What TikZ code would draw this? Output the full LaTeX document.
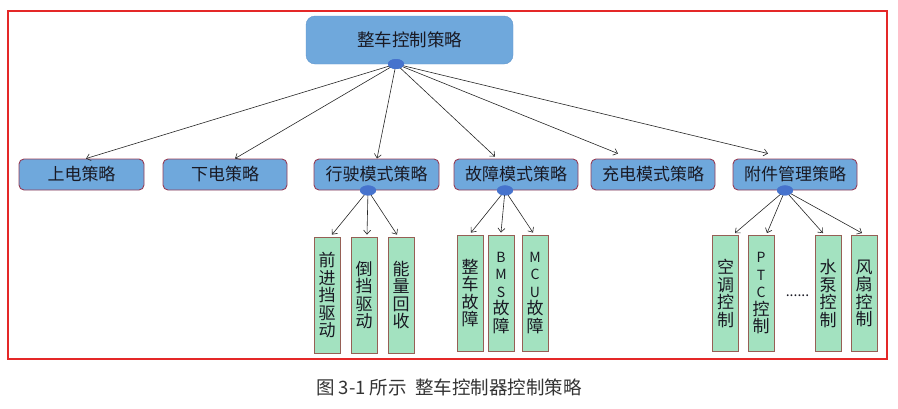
\documentclass[tikz,border=0pt]{standalone}
\usepackage{fontspec}
\setmainfont{Noto Sans CJK SC}
\usetikzlibrary{arrows.meta,shapes.geometric}
\definecolor{boxblue}{RGB}{111,168,220}
\definecolor{topborder}{RGB}{96,150,205}
\definecolor{midborder}{RGB}{150,60,85}
\definecolor{leafgreen}{RGB}{163,226,192}
\definecolor{leafborder}{RGB}{150,95,85}
\definecolor{hubblue}{RGB}{70,115,205}
\definecolor{framered}{RGB}{228,40,40}
\definecolor{txt}{RGB}{25,25,35}
\begin{document}
\begin{tikzpicture}[x=1pt,y=-1pt,
  topbox/.style={draw=topborder, fill=boxblue, rounded corners=9pt, minimum width=207pt, minimum height=48pt, inner sep=0pt, text=txt, font=\fontsize{17.5}{20}\selectfont},
  midbox/.style={draw=midborder, line width=0.9pt, fill=boxblue, rounded corners=5pt, minimum height=31pt, inner sep=0pt, text=txt, font=\fontsize{17}{20}\selectfont},
  leafbox/.style={draw=leafborder, line width=0.8pt, fill=leafgreen, minimum width=26pt, minimum height=116pt, inner sep=0pt, align=center, text=txt, font=\fontsize{17}{17.5}\selectfont},
  hub/.style={ellipse, fill=hubblue, minimum width=16pt, minimum height=10pt, inner sep=0pt},
  arr/.style={draw=black!85, line width=0.6pt, -{Straight Barb[length=4pt,width=7pt]}}
]
\useasboundingbox (0,0) rectangle (898,408);
\draw[framered, line width=1.2pt] (8,11) rectangle (887,359);

% top
\node[topbox] (top) at (409.5,40) {整车控制策略};

% level 2
\node[midbox, minimum width=125pt] (n1) at (81.5,174.5) {上电策略};
\node[midbox, minimum width=124pt] (n2) at (225,174.5) {下电策略};
\node[midbox, minimum width=125pt] (n3) at (376.5,174.5) {行驶模式策略};
\node[midbox, minimum width=124pt] (n4) at (516,174.5) {故障模式策略};
\node[midbox, minimum width=124pt] (n5) at (653,174.5) {充电模式策略};
\node[midbox, minimum width=124pt] (n6) at (795,174.5) {附件管理策略};

% hubs
\node[hub] (d0) at (396,64) {};
\node[hub] (d3) at ([xshift=-8.5pt]n3.south) {};
\node[hub] (d4) at ([xshift=-11pt]n4.south) {};
\node[hub] (d6) at ([xshift=-10pt]n6.south) {};

% level 3
\node[leafbox] (l1) at (327,295) {前\\进\\挡\\驱\\动};
\node[leafbox] (l2) at (364,295) {倒\\挡\\驱\\动};
\node[leafbox] (l3) at (401,295) {能\\量\\回\\收};
\node[leafbox] (k1) at (470,293) {整\\车\\故\\障};
\node[leafbox] (k2) at (501,293) {{\fontsize{14}{17.5}\selectfont B}\\{\fontsize{14}{17.5}\selectfont M}\\{\fontsize{14}{17.5}\selectfont S}\\故\\障};
\node[leafbox] (k3) at (535,293) {{\fontsize{14}{17.5}\selectfont M}\\{\fontsize{14}{17.5}\selectfont C}\\{\fontsize{14}{17.5}\selectfont U}\\故\\障};
\node[leafbox] (a1) at (725.5,293.5) {空\\调\\控\\制};
\node[leafbox] (a2) at (761,293.5) {{\fontsize{14}{17.5}\selectfont P}\\{\fontsize{14}{17.5}\selectfont T}\\{\fontsize{14}{17.5}\selectfont C}\\控\\制};
\node[leafbox] (a3) at (828,293.5) {水\\泵\\控\\制};
\node[leafbox] (a4) at (864,293.5) {风\\扇\\控\\制};
\node[anchor=base, text=txt, font=\fontsize{14}{16}\selectfont, inner sep=0pt] (dots) at (797.5,296) {......};

% connectors top -> level 2
\draw[arr] (d0.center) -- ([xshift=4.5pt]n1.north);
\draw[arr] (d0.center) -- ([xshift=10pt]n2.north);
\draw[arr] (d0.center) -- ([xshift=0.5pt]n3.north);
\draw[arr] (d0.center) -- ([xshift=-21pt,yshift=2pt]n4.north);
\draw[arr] (d0.center) -- ([xshift=-35pt,yshift=5pt]n5.north);
\draw[arr] (d0.center) -- ([xshift=-27pt,yshift=5pt]n6.north);

% level 2 -> level 3
\draw[arr] (d3.center) -- ([xshift=5pt,yshift=2pt]l1.north);
\draw[arr] (d3.center) -- ([xshift=3pt,yshift=2pt]l2.north);
\draw[arr] (d3.center) -- ([xshift=-4pt,yshift=2pt]l3.north);
\draw[arr] (d4.center) -- ([xshift=1pt,yshift=2pt]k1.north);
\draw[arr] (d4.center) -- ([yshift=2pt]k2.north);
\draw[arr] (d4.center) -- ([xshift=-2pt,yshift=2pt]k3.north);
\draw[arr] (d6.center) -- ([xshift=9.5pt,yshift=2pt]a1.north);
\draw[arr] (d6.center) -- ([xshift=6pt,yshift=2pt]a2.north);
\draw[arr] (d6.center) -- ([xshift=-5pt,yshift=2pt]a3.north);
\draw[arr] (d6.center) -- ([xshift=-2pt,yshift=2pt]a4.north);

% redraw hubs on top of lines
\fill[hubblue] (d0.center) ellipse [x radius=8pt, y radius=5pt];
\fill[hubblue] (d3.center) ellipse [x radius=8pt, y radius=5pt];
\fill[hubblue] (d4.center) ellipse [x radius=8pt, y radius=5pt];
\fill[hubblue] (d6.center) ellipse [x radius=8pt, y radius=5pt];

% caption
\node[text=black!80, font=\fontsize{18.5}{20}\selectfont, inner sep=0pt] (cap) at (449,387) {图 3-1 所示\ \ 整车控制器控制策略};
\end{tikzpicture}
\end{document}
